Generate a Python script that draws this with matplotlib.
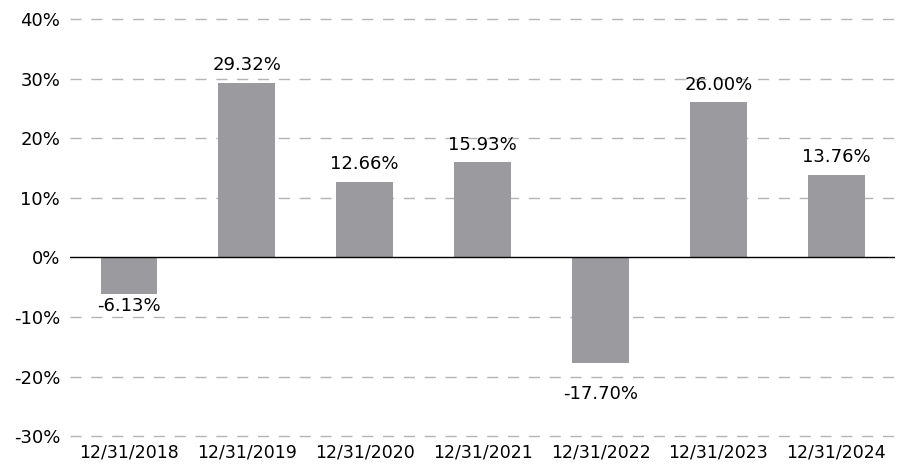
import matplotlib.pyplot as plt
import numpy as np

years = ['12/31/2018', '12/31/2019', '12/31/2020', '12/31/2021',
         '12/31/2022', '12/31/2023', '12/31/2024']
returns = [-6.13, 29.32, 12.66, 15.93, -17.70, 26.00, 13.76]
yticks = [-30, -20, -10, 0, 10, 20, 30, 40]
# label gap (in % units) between bar end and its value label
label_gap = [0.5, 1.5, 1.5, 1.5, 3.7, 1.5, 1.5]

plt.rcParams['font.family'] = ['DejaVu Sans']

fig = plt.figure(figsize=(9.08, 4.65), dpi=100)
ax = fig.add_axes([0.077, 0.062, 0.909, 0.897])

x = np.arange(len(years))
ax.bar(x, returns, width=0.48, color='#9b9b9f', zorder=3)

for xi, v, g in zip(x, returns, label_gap):
    if v >= 0:
        ax.text(xi, v + g, f'{v:.2f}%', ha='center', va='bottom', fontsize=13)
    else:
        ax.text(xi, v - g, f'{v:.2f}%', ha='center', va='top', fontsize=13)

ax.set_ylim(-30, 40)
ax.set_xlim(-0.5, len(years) - 0.5)
ax.set_yticks(yticks)
ax.set_yticklabels([f'{t}%' for t in yticks], fontsize=13)
ax.set_xticks(x)
ax.set_xticklabels(years, fontsize=12.5)
ax.tick_params(length=0, pad=7)
ax.tick_params(axis='x', pad=5)

for t in yticks:
    if t != 0:
        ax.axhline(t, color='#b4b4b4', linestyle=(0, (8, 7)), linewidth=1,
                   zorder=1, clip_on=False)
ax.axhline(0, color='black', linewidth=1, zorder=4)

for s in ax.spines.values():
    s.set_visible(False)

fig.savefig('out.png', dpi=100)
